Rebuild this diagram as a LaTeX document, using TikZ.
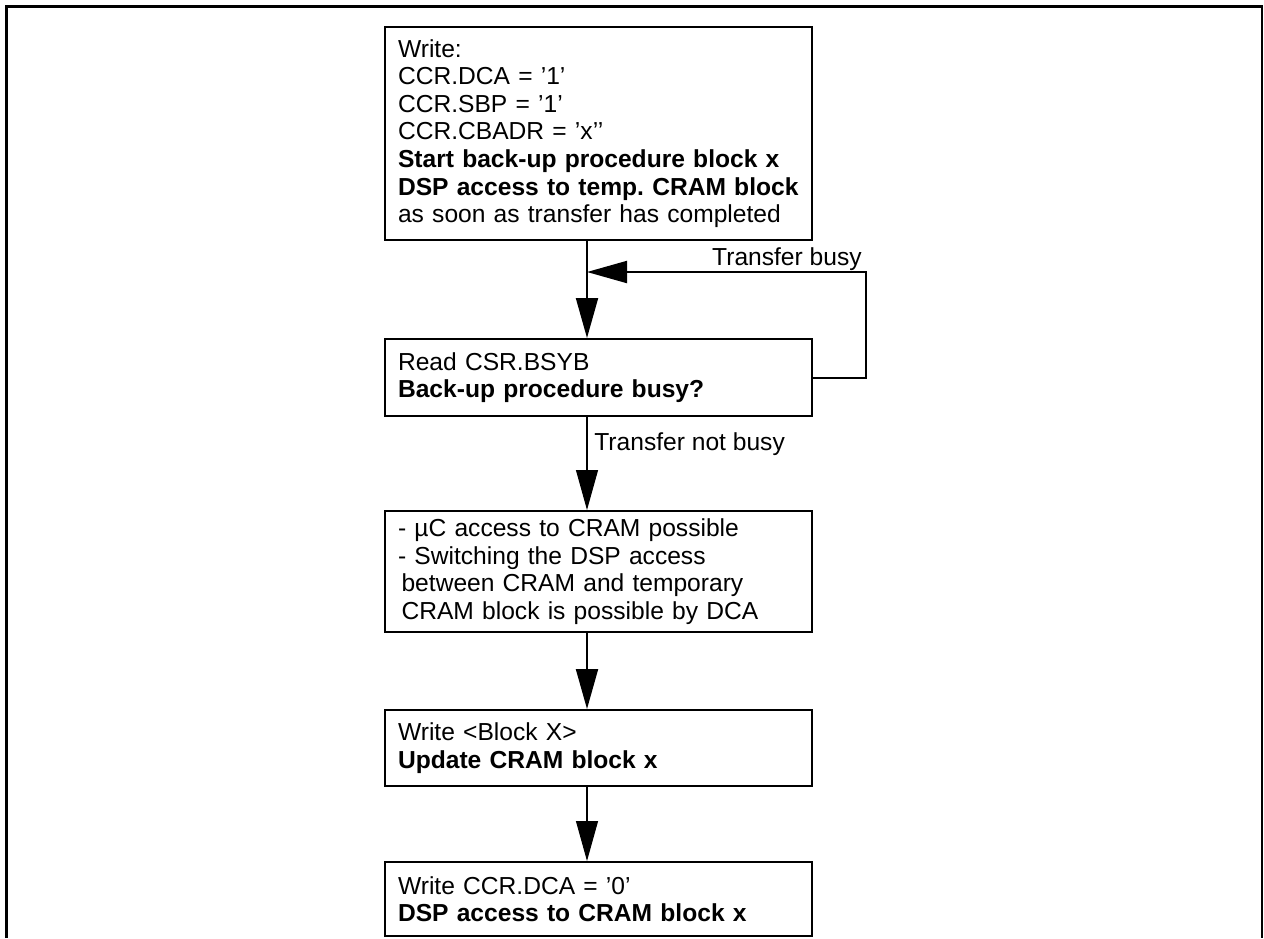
\documentclass[tikz,border=0pt]{standalone}
\usepackage{fontspec}
\setmainfont{Liberation Sans}
\usetikzlibrary{arrows.meta,positioning}
\tikzset{
  blk/.style={draw,rectangle,line width=1.15pt,minimum width=8.54cm,text width=8.02cm,inner xsep=0.26cm,inner ysep=0pt,align=left,font=\fontsize{14}{15.7}\selectfont\frenchspacing},
  arr/.style={-{Triangle[length=0.8cm,width=0.44cm]},line width=1.15pt},
  thinarr/.style={arr,line width=0.6pt},
  lbl/.style={inner sep=0pt,font=\fontsize{14}{15.7}\selectfont}
}

\begin{document}
\begin{tikzpicture}[x=0.02cm,y=-0.02cm]
  \useasboundingbox (0,0) rectangle (1264,938);
  % Frame
  \draw[line width=1.15pt] (6.5,938) -- (6.5,6.5) -- (1262,6.5) -- (1262,938);

  % Steps
  \node[blk, minimum height=4.26cm] (start) at (598.5,133.5) {Write:\\CCR.DCA = ’1’\\CCR.SBP = ’1’\\CCR.CBADR = ’x’’\\\textbf{Start back-up procedure block x}\\\textbf{DSP access to temp. CRAM block}\\as soon as transfer has completed};
  \node[blk, minimum height=1.54cm] (poll) at (598.5,377.5) {Read CSR.BSYB\\\textbf{Back-up procedure busy?}};
  \node[blk, minimum height=2.42cm] (free) at (598.5,571.5) {- µC access to CRAM possible\\- Switching the DSP access\\\hspace*{2pt}between CRAM and temporary\\\hspace*{2pt}CRAM block is possible by DCA};
  \node[blk, minimum height=1.52cm] (update) at (598.5,748) {Write <Block X>\\\textbf{Update CRAM block x}};
  \node[blk, minimum height=1.48cm] (done) at (598.5,899) {Write CCR.DCA = ’0’\\\textbf{DSP access to CRAM block x}};

  % Helper coordinates
  \coordinate (spine) at (587,0);
  \coordinate (loop) at (866,272);

  % Connections
  \draw[arr] (start.south -| spine) -- (poll.north -| spine);
  \draw[arr] (poll.east) -| (loop) -- (loop -| spine);
  \draw[thinarr] (poll.south -| spine) -- (free.north -| spine);
  \draw[arr] (free.south -| spine) -- (update.north -| spine);
  \draw[thinarr] (update.south -| spine) -- (done.north -| spine);

  % Labels
  \node[lbl, anchor=base east] (busy) at (862,265) {Transfer busy};
  \node[lbl, anchor=base west] (notbusy) at (594,450) {Transfer not busy};
\end{tikzpicture}
\end{document}
